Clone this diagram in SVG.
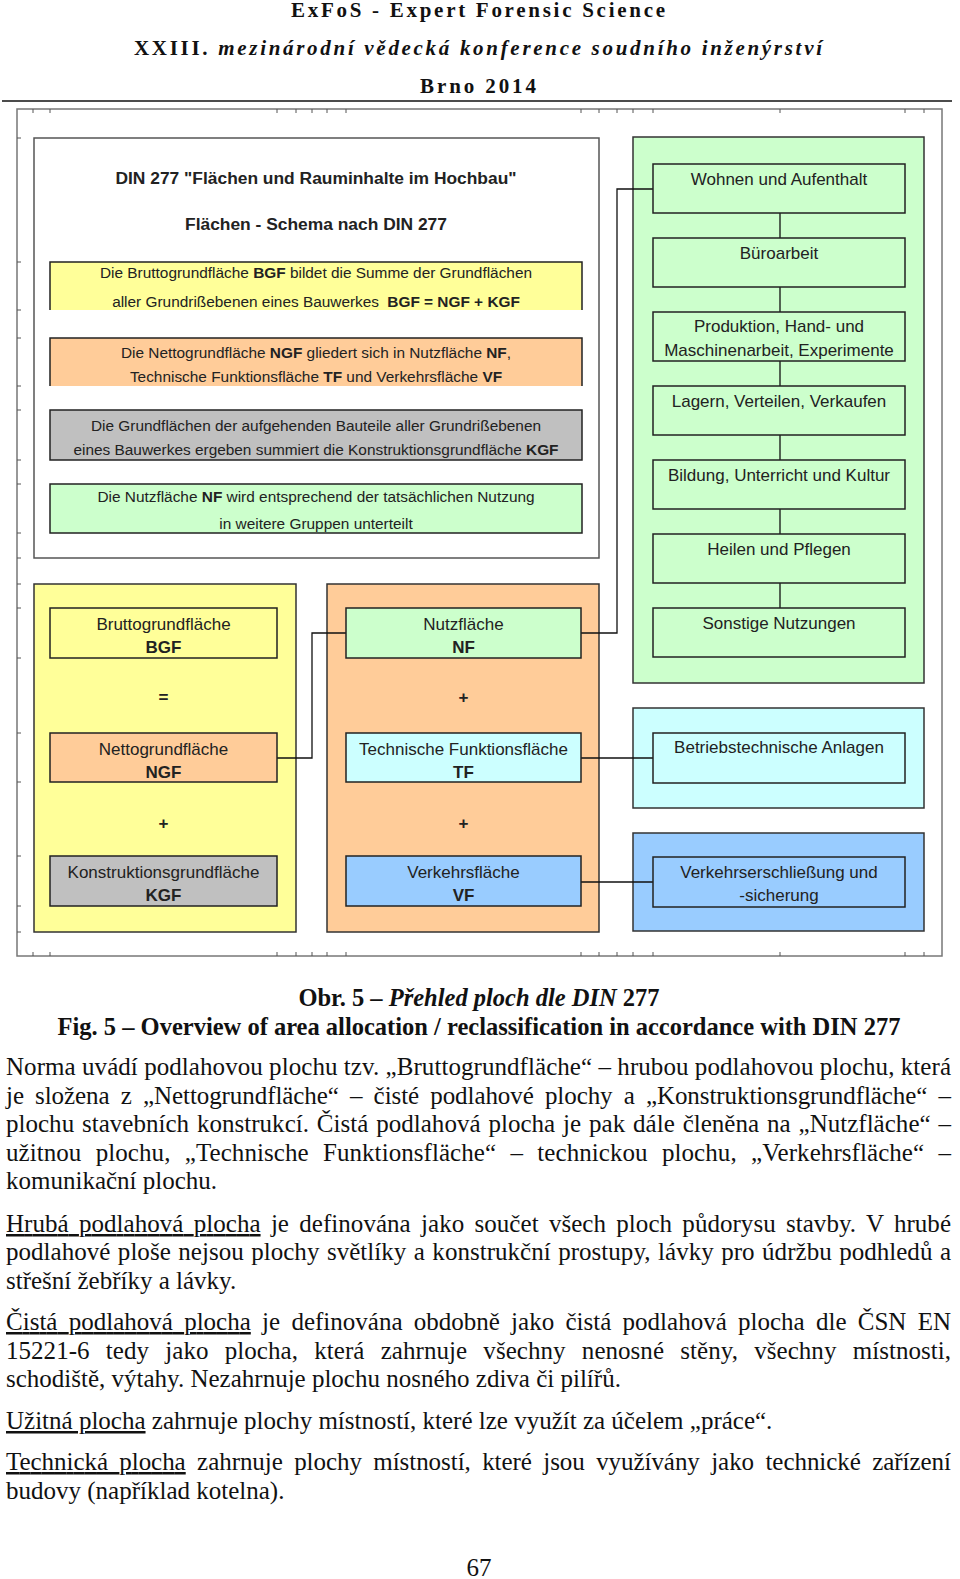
<svg xmlns="http://www.w3.org/2000/svg" width="960" height="1579" viewBox="0 0 960 1579">
<style>
.hdr{font-family:"Liberation Serif","Times New Roman",serif;font-weight:bold;font-size:21px;fill:#111}
.cap{font-family:"Liberation Serif","Times New Roman",serif;font-weight:bold;font-size:24.5px;fill:#111;text-anchor:middle}
.p{font-family:"Liberation Serif","Times New Roman",serif;font-size:25px;fill:#111}
.u{text-decoration:underline}
.it{font-style:italic}
.frame{fill:none;stroke:#777;stroke-width:1.5}
.tick{fill:none;stroke:#555;stroke-width:1}
.panel{stroke:#333;stroke-width:1.5}
.box{stroke:#222;stroke-width:1.5}
.open{fill:none;stroke:#222;stroke-width:1.5}
.t{font-family:"Liberation Sans",Arial,sans-serif;font-size:17px;fill:#222;text-anchor:middle}
.ts{font-family:"Liberation Sans",Arial,sans-serif;font-size:15.4px;fill:#222;text-anchor:middle}
.ttl{font-family:"Liberation Sans",Arial,sans-serif;font-size:17.4px;font-weight:bold;fill:#222;text-anchor:middle}
.op{font-family:"Liberation Sans",Arial,sans-serif;font-size:17px;font-weight:bold;fill:#222;text-anchor:middle}
.b{font-weight:bold}
.conn{fill:none;stroke:#111;stroke-width:1.3}
</style>

<g id="header">
<text class="hdr" x="291" y="17" textLength="374" lengthAdjust="spacing">ExFoS - Expert Forensic Science</text>
<text class="hdr" x="134" y="55" textLength="688" lengthAdjust="spacing">XXIII.<tspan class="it"> mezinárodní vědecká konference soudního inženýrství</tspan></text>
<text class="hdr" x="420" y="93" textLength="116" lengthAdjust="spacing">Brno 2014</text>
<line x1="2" y1="101" x2="952" y2="101" stroke="#111" stroke-width="1.5"/>
</g>

<g id="outer-frame">
<rect class="frame" x="17" y="109" width="925" height="847"/>
<path class="tick" d="M33,109v4 M50,109v4 M277,109v4 M296,109v4 M312,109v4 M327,109v4 M346,109v4 M581,109v4 M599,109v4 M617,109v4 M633,109v4 M653,109v4 M780,109v4 M905,109v4 M924,109v4
M33,956v-4 M50,956v-4 M277,956v-4 M296,956v-4 M312,956v-4 M327,956v-4 M346,956v-4 M581,956v-4 M599,956v-4 M617,956v-4 M633,956v-4 M653,956v-4 M780,956v-4 M905,956v-4 M924,956v-4
M17,138h4 M17,262h4 M17,310h4 M17,338h4 M17,386h4 M17,410h4 M17,460h4 M17,484h4 M17,533h4 M17,558h4 M17,584h4 M17,608h4 M17,658h4 M17,733h4 M17,782h4 M17,856h4 M17,906h4 M17,932h4"/>
</g>

<g id="din-panel">
<rect x="34" y="138" width="565" height="420" fill="#fff" stroke="#555" stroke-width="1.5"/>
<text class="ttl" x="316" y="184">DIN 277 "Flächen und Rauminhalte im Hochbau"</text>
<text class="ttl" x="316" y="230">Flächen - Schema nach DIN 277</text>
</g>

<g id="info-bgf">
<rect x="50" y="262" width="532" height="48" fill="#ffff99"/>
<path class="open" d="M50,310 V262 H582 V310"/>
<text class="ts" x="316" y="278">Die Bruttogrundfläche <tspan class="b">BGF</tspan> bildet die Summe der Grundflächen</text>
<text class="ts" x="316" y="307">aller Grundrißebenen eines Bauwerkes <tspan class="b" dx="4">BGF = NGF + KGF</tspan></text>
</g>

<g id="info-ngf">
<rect x="50" y="338" width="532" height="48" fill="#ffcc99"/>
<path class="open" d="M50,386 V338 H582 V386"/>
<text class="ts" x="316" y="358">Die Nettogrundfläche <tspan class="b">NGF</tspan> gliedert sich in Nutzfläche <tspan class="b">NF</tspan>,</text>
<text class="ts" x="316" y="382">Technische Funktionsfläche <tspan class="b">TF</tspan> und Verkehrsfläche <tspan class="b">VF</tspan></text>
</g>

<g id="info-kgf">
<rect class="box" x="50" y="410" width="532" height="50" fill="#c0c0c0"/>
<text class="ts" x="316" y="431">Die Grundflächen der aufgehenden Bauteile aller Grundrißebenen</text>
<text class="ts" x="316" y="455">eines Bauwerkes ergeben summiert die Konstruktionsgrundfläche <tspan class="b">KGF</tspan></text>
</g>

<g id="info-nf">
<rect class="box" x="50" y="484" width="532" height="49" fill="#ccffcc"/>
<text class="ts" x="316" y="502">Die Nutzfläche <tspan class="b">NF</tspan> wird entsprechend der tatsächlichen Nutzung</text>
<text class="ts" x="316" y="529">in weitere Gruppen unterteilt</text>
</g>

<g id="panel-yellow"><rect class="panel" x="34" y="584" width="262" height="348" fill="#ffff99"/></g>
<g id="panel-orange"><rect class="panel" x="327" y="584" width="272" height="348" fill="#ffcc99"/></g>
<g id="panel-green"><rect class="panel" x="633" y="137" width="291" height="546" fill="#ccffcc"/></g>
<g id="panel-cyan"><rect class="panel" x="633" y="708" width="291" height="100" fill="#ccffff"/></g>
<g id="panel-blue"><rect class="panel" x="633" y="833" width="291" height="98" fill="#99ccff"/></g>

<g id="connectors">
<path class="conn" d="M277,758 H312 V633 H346"/>
<path class="conn" d="M581,633 H617 V189 H653"/>
<path class="conn" d="M581,758 H653"/>
<path class="conn" d="M581,882 H653"/>
<path class="conn" d="M780,213 V238 M780,287 V312 M780,361 V386 M780,435 V460 M780,509 V534 M780,583 V608"/>
</g>

<g id="bgf">
<rect class="box" x="50" y="608" width="227" height="50" fill="#ffff99"/>
<text class="t" x="163.5" y="630">Bruttogrundfläche</text>
<text class="t b" x="163.5" y="653">BGF</text>
</g>
<text id="op-eq" class="op" x="163.5" y="703">=</text>
<g id="ngf">
<rect class="box" x="50" y="733" width="227" height="49" fill="#ffcc99"/>
<text class="t" x="163.5" y="755">Nettogrundfläche</text>
<text class="t b" x="163.5" y="778">NGF</text>
</g>
<text id="op-plus1" class="op" x="163.5" y="829">+</text>
<g id="kgf">
<rect class="box" x="50" y="856" width="227" height="50" fill="#c0c0c0"/>
<text class="t" x="163.5" y="878">Konstruktionsgrundfläche</text>
<text class="t b" x="163.5" y="901">KGF</text>
</g>

<g id="nf">
<rect class="box" x="346" y="608" width="235" height="50" fill="#ccffcc"/>
<text class="t" x="463.5" y="630">Nutzfläche</text>
<text class="t b" x="463.5" y="653">NF</text>
</g>
<text id="op-plus2" class="op" x="463.5" y="703">+</text>
<g id="tf">
<rect class="box" x="346" y="733" width="235" height="49" fill="#ccffff"/>
<text class="t" x="463.5" y="755">Technische Funktionsfläche</text>
<text class="t b" x="463.5" y="778">TF</text>
</g>
<text id="op-plus3" class="op" x="463.5" y="829">+</text>
<g id="vf">
<rect class="box" x="346" y="856" width="235" height="50" fill="#99ccff"/>
<text class="t" x="463.5" y="878">Verkehrsfläche</text>
<text class="t b" x="463.5" y="901">VF</text>
</g>

<g id="nf1"><rect class="box" x="653" y="164" width="252" height="49" fill="#ccffcc"/><text class="t" x="779" y="185">Wohnen und Aufenthalt</text></g>
<g id="nf2"><rect class="box" x="653" y="238" width="252" height="49" fill="#ccffcc"/><text class="t" x="779" y="259">Büroarbeit</text></g>
<g id="nf3"><rect class="box" x="653" y="312" width="252" height="49" fill="#ccffcc"/><text class="t" x="779" y="332">Produktion, Hand- und</text><text class="t" x="779" y="356">Maschinenarbeit, Experimente</text></g>
<g id="nf4"><rect class="box" x="653" y="386" width="252" height="49" fill="#ccffcc"/><text class="t" x="779" y="407">Lagern, Verteilen, Verkaufen</text></g>
<g id="nf5"><rect class="box" x="653" y="460" width="252" height="49" fill="#ccffcc"/><text class="t" x="779" y="481">Bildung, Unterricht und Kultur</text></g>
<g id="nf6"><rect class="box" x="653" y="534" width="252" height="49" fill="#ccffcc"/><text class="t" x="779" y="555">Heilen und Pflegen</text></g>
<g id="nf7"><rect class="box" x="653" y="608" width="252" height="49" fill="#ccffcc"/><text class="t" x="779" y="629">Sonstige Nutzungen</text></g>

<g id="bta"><rect class="box" x="653" y="733" width="252" height="50" fill="#ccffff"/><text class="t" x="779" y="753">Betriebstechnische Anlagen</text></g>
<g id="ves"><rect class="box" x="653" y="857" width="252" height="50" fill="#99ccff"/><text class="t" x="779" y="878">Verkehrserschließung und</text><text class="t" x="779" y="901">-sicherung</text></g>

<g id="caption">
<text class="cap" x="479" y="1006">Obr. 5 – <tspan class="it">Přehled ploch dle DIN</tspan> 277</text>
<text class="cap" x="479" y="1035">Fig. 5 – Overview of area allocation / reclassification in accordance with DIN 277</text>
</g>

<g id="body">
<text class="p" x="6" y="1075" textLength="945" lengthAdjust="spacing">Norma uvádí podlahovou plochu tzv. „Bruttogrundfläche“ – hrubou podlahovou plochu, která</text>
<text class="p" x="6" y="1104" textLength="945" lengthAdjust="spacing" word-spacing="5">je složena z „Nettogrundfläche“ – čisté podlahové plochy a „Konstruktionsgrundfläche“ –</text>
<text class="p" x="6" y="1132" textLength="945" lengthAdjust="spacing" word-spacing="1.6">plochu stavebních konstrukcí. Čistá podlahová plocha je pak dále členěna na „Nutzfläche“ –</text>
<text class="p" x="6" y="1161" textLength="945" lengthAdjust="spacing" word-spacing="8">užitnou plochu, „Technische Funktionsfläche“ – technickou plochu, „Verkehrsfläche“ –</text>
<text class="p" x="6" y="1189">komunikační plochu.</text>

<text class="p" x="6" y="1232" textLength="945" lengthAdjust="spacing" word-spacing="4"><tspan class="u">Hrubá podlahová plocha</tspan> je definována jako součet všech ploch půdorysu stavby. V hrubé</text>
<text class="p" x="6" y="1260" textLength="945" lengthAdjust="spacing" word-spacing="1.2">podlahové ploše nejsou plochy světlíky a konstrukční prostupy, lávky pro údržbu podhledů a</text>
<text class="p" x="6" y="1289">střešní žebříky a lávky.</text>

<text class="p" x="6" y="1330" textLength="945" lengthAdjust="spacing" word-spacing="5"><tspan class="u">Čistá podlahová plocha</tspan> je definována obdobně jako čistá podlahová plocha dle ČSN EN</text>
<text class="p" x="6" y="1359" textLength="945" lengthAdjust="spacing" word-spacing="10">15221-6 tedy jako plocha, která zahrnuje všechny nenosné stěny, všechny místnosti,</text>
<text class="p" x="6" y="1387">schodiště, výtahy. Nezahrnuje plochu nosného zdiva či pilířů.</text>

<text class="p" x="6" y="1429"><tspan class="u">Užitná plocha</tspan> zahrnuje plochy místností, které lze využít za účelem „práce“.</text>

<text class="p" x="6" y="1470" textLength="945" lengthAdjust="spacing" word-spacing="5.2"><tspan class="u">Technická plocha</tspan> zahrnuje plochy místností, které jsou využívány jako technické zařízení</text>
<text class="p" x="6" y="1499">budovy (například kotelna).</text>

<text class="p" x="479" y="1576" text-anchor="middle">67</text>
</g>
</svg>
